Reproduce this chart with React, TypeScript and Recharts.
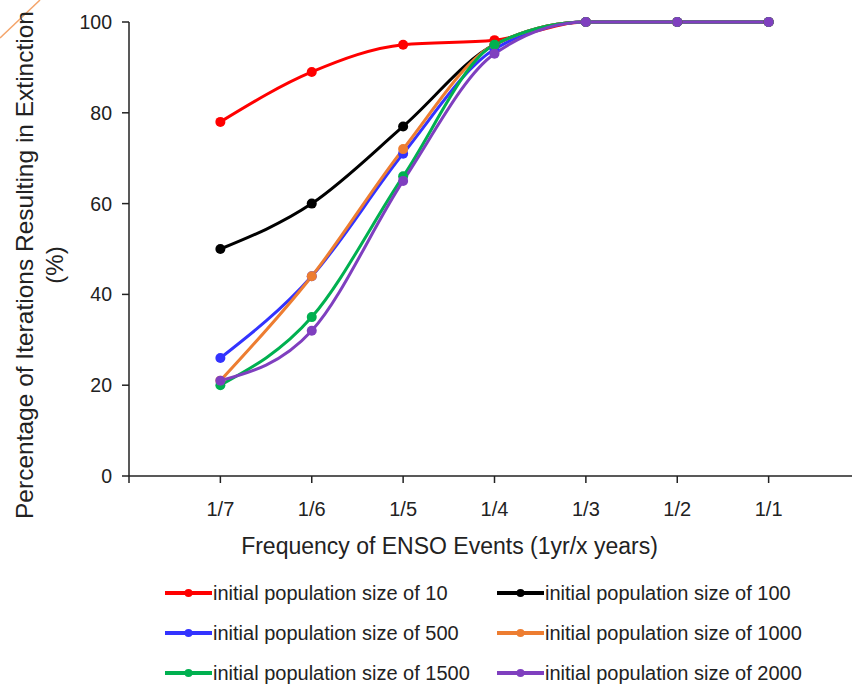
import { CartesianGrid, Line, LineChart, XAxis, YAxis } from 'recharts';

// x positions: 1 = 1/7 ... 7 = 1/1 (0 is the axis origin)
const freqLabels = ['', '1/7', '1/6', '1/5', '1/4', '1/3', '1/2', '1/1'];
const xPos = [1, 2, 3, 4, 5, 6, 7];

const pop10 = [78, 89, 95, 96, 100, 100, 100];
const pop100 = [50, 60, 77, 95, 100, 100, 100];
const pop500 = [26, 44, 71, 94, 100, 100, 100];
const pop1000 = [21, 44, 72, 95, 100, 100, 100];
const pop1500 = [20, 35, 66, 95, 100, 100, 100];
const pop2000 = [21, 32, 65, 93, 100, 100, 100];

const series = [
  { key: 'p10', name: 'initial population size of 10', values: pop10, color: '#ff0000' },
  { key: 'p100', name: 'initial population size of 100', values: pop100, color: '#000000' },
  { key: 'p500', name: 'initial population size of 500', values: pop500, color: '#3333ff' },
  { key: 'p1000', name: 'initial population size of 1000', values: pop1000, color: '#ed7d31' },
  { key: 'p1500', name: 'initial population size of 1500', values: pop1500, color: '#00b050' },
  { key: 'p2000', name: 'initial population size of 2000', values: pop2000, color: '#7f3fbf' },
];

const data = xPos.map((x, i) => {
  const row: any = { x };
  series.forEach(s => { row[s.key] = s.values[i]; });
  return row;
});

const font = 'Arial, "Liberation Sans", sans-serif';

const YLabel = () => (
  <g>
    <text x={0} y={0} transform='translate(33,265) rotate(-90)' textAnchor='middle'
      fontSize={24.5} fill='#222' fontFamily={font}>
      Percentage of Iterations Resulting in Extinction
    </text>
    <text x={0} y={0} transform='translate(63,265) rotate(-90)' textAnchor='middle'
      fontSize={24} fill='#222' fontFamily={font}>
      (%)
    </text>
  </g>
);

export default function App() {
  return (
    <div style={{ position: 'absolute', left: 0, top: 0, width: 852, height: 687, overflow: 'hidden', background: '#fff', fontFamily: font }}>
      <svg width={60} height={60} style={{ position: 'absolute', left: 0, top: 0 }}>
        <line x1={0} y1={38} x2={40} y2={0} stroke='#f4a46a' strokeWidth={1.5} />
      </svg>
      <LineChart width={860} height={560} data={data}
        margin={{ top: 22, right: 0, bottom: 0, left: 0 }}
        style={{ position: 'absolute', left: 0, top: 0 }}>
        <CartesianGrid stroke='none' />
        <XAxis dataKey='x' type='number' domain={[0, 8]} ticks={[0, 1, 2, 3, 4, 5, 6, 7]}
          tickFormatter={(v: number) => freqLabels[v]} height={84}
          stroke='#222' strokeWidth={1.5} tickSize={7}
          tick={{ fontSize: 20, fill: '#222', fontFamily: font, dy: 17 }}
          label={{ value: 'Frequency of ENSO Events (1yr/x years)', position: 'insideBottom', offset: 6,
            dx: -45, fontSize: 23, fill: '#222', fontFamily: font }} />
        <YAxis type='number' domain={[0, 100]} ticks={[0, 20, 40, 60, 80, 100]} width={129}
          stroke='#222' strokeWidth={1.5} tickSize={7}
          tick={{ fontSize: 19.5, fill: '#222', fontFamily: font, dx: -8 }}
          label={{ content: () => <YLabel /> }} />
        {series.map(s => (
          <Line key={s.key} dataKey={s.key} name={s.name} type='monotone' stroke={s.color}
            strokeWidth={3} dot={{ r: 5, fill: s.color, stroke: s.color, strokeWidth: 0 }}
            activeDot={false} isAnimationActive={false} />
        ))}
      </LineChart>
      <div style={{ position: 'absolute', left: 165, top: 573, width: 687 }}>
        {[0, 1, 2].map(row => (
          <div key={row} style={{ display: 'flex', height: 40, alignItems: 'center' }}>
            {[0, 1].map(col => {
              const s = series[row * 2 + col];
              return (
                <div key={s.key} style={{ display: 'flex', alignItems: 'center', width: col === 0 ? 332 : 350 }}>
                  <svg width={47} height={12} style={{ flex: 'none', marginRight: 1 }}>
                    <line x1={0} y1={6} x2={47} y2={6} stroke={s.color} strokeWidth={4} />
                    <circle cx={23.5} cy={6} r={4} fill={s.color} />
                  </svg>
                  <span style={{ fontSize: 20, color: '#222', whiteSpace: 'nowrap' }}>{s.name}</span>
                </div>
              );
            })}
          </div>
        ))}
      </div>
    </div>
  );
}
